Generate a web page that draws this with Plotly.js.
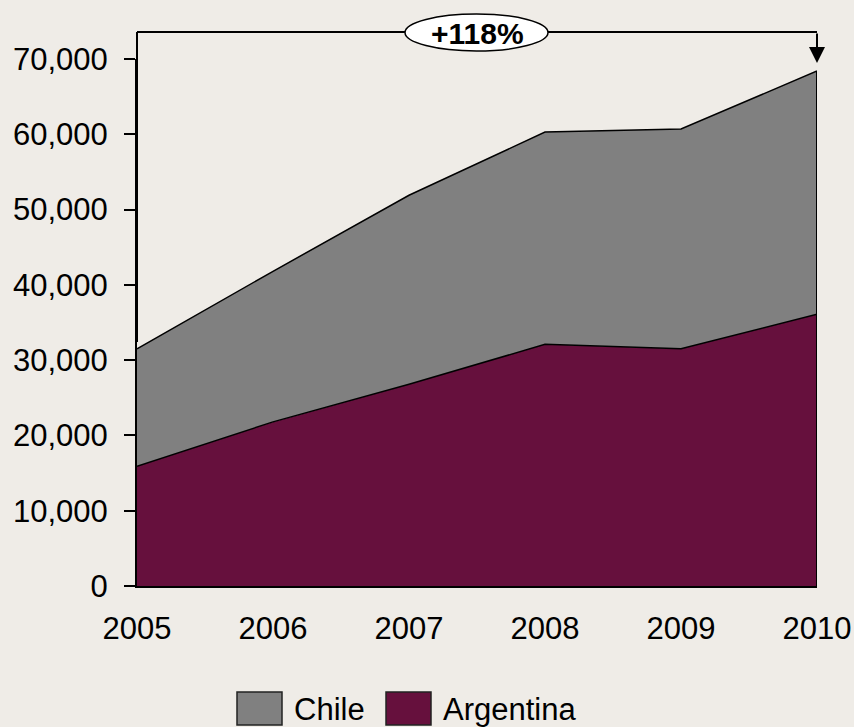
<!DOCTYPE html>
<html>
<head>
<meta charset="utf-8">
<script src="https://cdn.plot.ly/plotly-3.0.1.min.js"></script>
<style>
html,body{margin:0;padding:0;background:#EFECE7;}
#chart{width:854px;height:727px;}
</style>
</head>
<body>
<div id="chart"></div>
<script>
const years = [2005, 2006, 2007, 2008, 2009, 2010];
const argentina = [15900, 21800, 26800, 32100, 31500, 36100];
const chile = [15600, 20000, 25100, 28200, 29200, 32300];
const seriesNames = ["Chile", "Argentina"];
const growthLabel = "+118%";
const yTicks = [0, 10000, 20000, 30000, 40000, 50000, 60000, 70000];

const colArg = "#66103D";
const colChile = "#808080";
const bg = "#EFECE7";
const font = "Liberation Sans, Arial, sans-serif";
const fs = 31;

const traces = [
  {x: years, y: argentina, name: seriesNames[1], type: "scatter", mode: "lines",
   stackgroup: "one", fillcolor: colArg, line: {color: "#000", width: 1.5}, showlegend: false, hoverinfo: "skip"},
  {x: years, y: chile, name: seriesNames[0], type: "scatter", mode: "lines",
   stackgroup: "one", fillcolor: colChile, line: {color: "#000", width: 1.5}, showlegend: false, hoverinfo: "skip"}
];

// plot area geometry (pixels) used to place decorations in paper coords
const L = 137, R = 817, T = 59, B = 586;
const px = v => (v - L) / (R - L);
const py = v => (B - v) / (B - T);

const shapes = [
  // right edge outline of the area
  {type: "line", xref: "x", yref: "y", x0: 2010, x1: 2010, y0: 0, y1: argentina[5] + chile[5], line: {color: "#000", width: 2}},
  // bracket
  {type: "line", xref: "paper", yref: "paper", x0: 0, x1: 0, y0: py(342), y1: py(32), line: {color: "#000", width: 2}},
  {type: "line", xref: "paper", yref: "paper", x0: 0, x1: 1, y0: py(32), y1: py(32), line: {color: "#000", width: 2}},
  // ellipse
  {type: "circle", xref: "paper", yref: "paper", x0: px(405), x1: px(548), y0: py(51), y1: py(14), fillcolor: "#fff", line: {color: "#000", width: 1.5}},
  // legend squares
  {type: "rect", xref: "paper", yref: "paper", x0: px(237), x1: px(282), y0: py(692), y1: py(725), fillcolor: colChile, line: {color: "#222", width: 1.5}},
  {type: "rect", xref: "paper", yref: "paper", x0: px(386), x1: px(431), y0: py(692), y1: py(725), fillcolor: colArg, line: {color: "#222", width: 1.5}}
];

const annotations = [
  {xref: "paper", yref: "paper", x: px(477), y: py(33), text: "<b>" + growthLabel + "</b>", showarrow: false,
   font: {family: font, size: 30, color: "#000"}, xanchor: "center", yanchor: "middle"},
  {xref: "paper", yref: "paper", x: 1, y: py(63), ax: 0, ay: -31, axref: "pixel", ayref: "pixel",
   showarrow: true, arrowhead: 2, arrowsize: 1.6, arrowwidth: 2, arrowcolor: "#000", text: ""},
  {xref: "paper", yref: "paper", x: px(292), y: py(709), text: seriesNames[0], showarrow: false,
   font: {family: font, size: fs, color: "#000"}, xanchor: "left", yanchor: "middle"},
  {xref: "paper", yref: "paper", x: px(441), y: py(709), text: seriesNames[1], showarrow: false,
   font: {family: font, size: fs, color: "#000"}, xanchor: "left", yanchor: "middle"}
];

const layout = {
  width: 854, height: 727,
  paper_bgcolor: bg, plot_bgcolor: bg,
  margin: {l: L, r: 854 - R, t: T, b: 727 - B, pad: 0},
  showlegend: false,
  font: {family: font, size: fs, color: "#000"},
  xaxis: {
    range: [2005, 2010], tickvals: years, ticktext: years.map(String),
    showgrid: false, zeroline: false, showline: true, linecolor: "#000", linewidth: 2,
    ticks: "", ticklabelstandoff: 14, tickfont: {family: font, size: fs, color: "#000"}, fixedrange: true
  },
  yaxis: {
    range: [0, 70000], tickvals: yTicks, tickformat: ",",
    showgrid: false, zeroline: false, showline: true, linecolor: "#000", linewidth: 2,
    ticks: "outside", ticklen: 11, tickwidth: 2, tickcolor: "#000", ticklabelstandoff: 10,
    tickfont: {family: font, size: fs, color: "#000"}, fixedrange: true
  },
  shapes: shapes,
  annotations: annotations
};

Plotly.newPlot("chart", traces, layout, {displayModeBar: false, staticPlot: true});
</script>
</body>
</html>
